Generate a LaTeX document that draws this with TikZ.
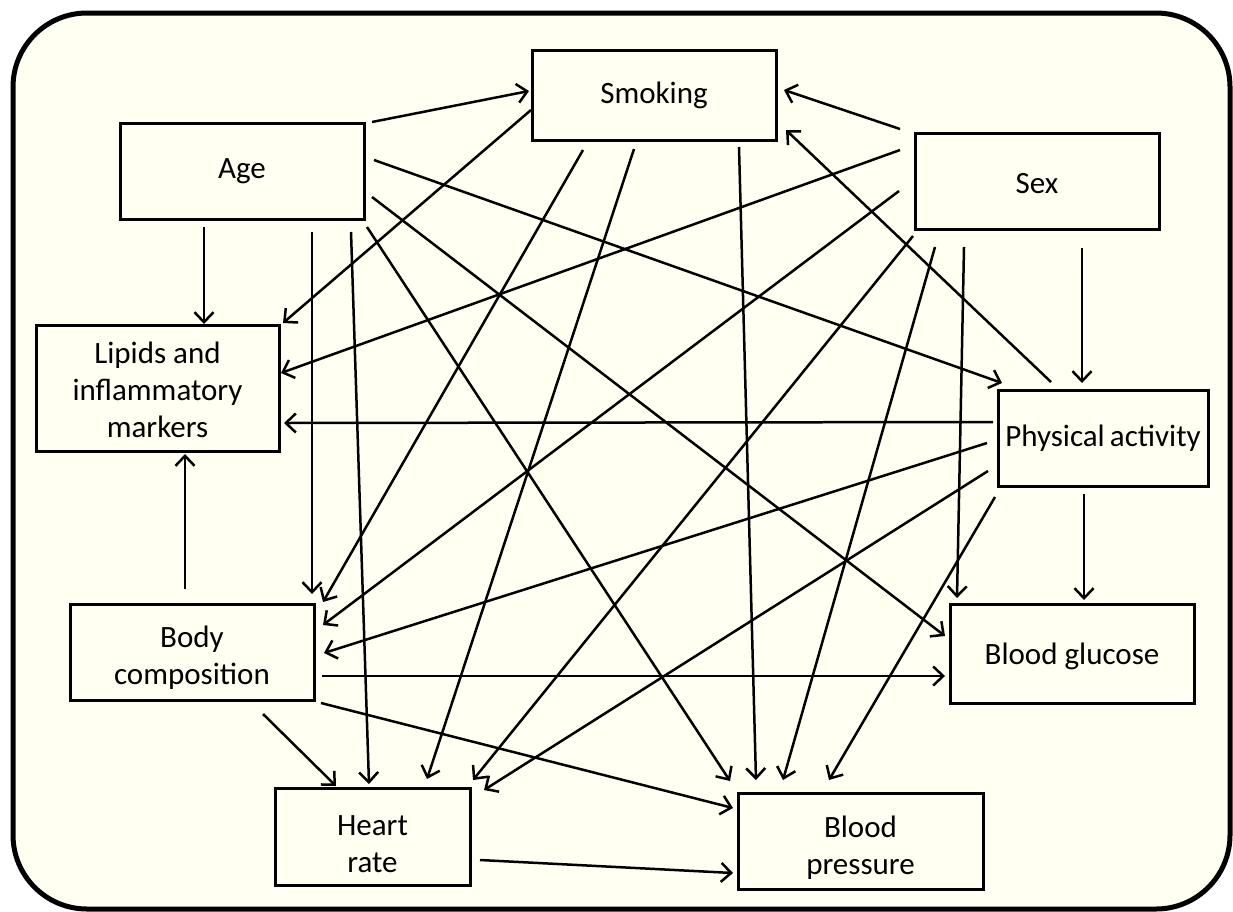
\documentclass[tikz,border=0pt]{standalone}
\usepackage{fontspec}
\setmainfont{Carlito}
\usetikzlibrary{arrows.meta,calc}
\definecolor{bgc}{RGB}{255,255,242}
\newcommand{\boxfont}{\fontsize{31}{37}\selectfont}
\newcommand{\lowr}[1]{\rule{0pt}{#1}}
\tikzset{
  box/.style={draw, line width=3pt, inner sep=0pt, outer sep=0pt, align=center, font=\boxfont, fill=bgc},
  arr/.style={line width=2.5pt, -{Straight Barb[length=10pt,width=19pt,line width=2.5pt]}}
}
\begin{document}
\begin{tikzpicture}[x=1pt,y=-1pt]
\useasboundingbox (0,0) rectangle (1233,911);
\draw[line width=5pt, rounded corners=74pt, fill=bgc] (13,13) rectangle (1230,909);

\node[box, minimum width=244pt, minimum height=90pt] (smoking) at (654,95) {Smoking};
\node[box, minimum width=244pt, minimum height=96pt] (age) at (242,171) {Age};
\node[box, minimum width=244pt, minimum height=96pt] (sex) at (1037,181) {\lowr{26pt}Sex};
\node[box, minimum width=210pt, minimum height=96pt] (pa) at (1103,438) {Physical\,activity};
\node[box, minimum width=243pt, minimum height=126pt] (lipids) at (157.5,388) {\lowr{25pt}Lipids and\\inflammatory\\markers};
\node[box, minimum width=244pt, minimum height=96pt] (bc) at (192,652) {\lowr{32pt}Body\\composition};
\node[box, minimum width=244pt, minimum height=99pt] (bg) at (1072,653.5) {\lowr{28pt}Blood glucose};
\node[box, minimum width=195pt, minimum height=97pt] (hr) at (372.5,836.5) {\lowr{36pt}Heart\\rate};
\node[box, minimum width=245pt, minimum height=96pt] (bp) at (860.5,841) {\lowr{34pt}Blood\\pressure};

% from Age
\draw[arr] ($(age.north west)+(252,-1)$) -- ($(smoking.north west)+(-3,41)$);
\draw[arr] ($(age.north west)+(84,104)$) -- ($(lipids.north west)+(168,-1)$);
\draw[arr] ($(age.north west)+(192,109)$) -- ($(bc.north west)+(242,-10)$);
\draw[arr] ($(age.north west)+(231,109)$) -- ($(hr.north west)+(94,-4)$);
\draw[arr] ($(age.north west)+(247,104)$) -- ($(bp.north west)+(-8,-12)$);
\draw[arr] ($(age.north west)+(252,74)$) -- ($(bg.north west)+(-5,32)$);
\draw[arr] ($(age.north west)+(254,37)$) -- ($(pa.north west)+(4,-7)$);
% from Smoking
\draw[arr] ($(smoking.north west)+(-1,60)$) -- ($(lipids.north west)+(247,-2)$);
\draw[arr] ($(smoking.north west)+(51,100)$) -- ($(bc.north west)+(253,-2)$);
\draw[arr] ($(smoking.north west)+(102,99)$) -- ($(hr.north west)+(152,-9)$);
\draw[arr] ($(smoking.north west)+(207,97)$) -- ($(bp.north west)+(18,-13)$);
% from Sex
\draw[arr] ($(sex.north west)+(-15,-4)$) -- ($(smoking.north west)+(252,40)$);
\draw[arr] ($(sex.north west)+(-15,17)$) -- ($(lipids.north west)+(245,48)$);
\draw[arr] ($(sex.north west)+(-16,58)$) -- ($(bc.north west)+(253,21)$);
\draw[arr] ($(sex.north west)+(-2,103)$) -- ($(hr.north west)+(198,-8)$);
\draw[arr] ($(sex.north west)+(20,114)$) -- ($(bp.north west)+(45,-13)$);
\draw[arr] ($(sex.north west)+(49,114)$) -- ($(bg.north west)+(7,-6)$);
\draw[arr] ($(sex.north west)+(167,115)$) -- ($(pa.north west)+(84,-7)$);
% from Physical activity
\draw[arr] ($(pa.north west)+(53,-8)$) -- ($(smoking.north west)+(254,80)$);
\draw[arr] ($(pa.north west)+(-5,32)$) -- ($(lipids.north west)+(248,98)$);
\draw[arr] ($(pa.north west)+(-11,53)$) -- ($(bc.north west)+(254,49)$);
\draw[arr] ($(pa.north west)+(-10,81)$) -- ($(hr.north west)+(209,2)$);
\draw[arr] ($(pa.north west)+(-3,107)$) -- ($(bp.north west)+(91,-13)$);
\draw[arr] ($(pa.north west)+(86,104)$) -- ($(bg.north west)+(134,-4)$);
% from Body composition
\draw[arr] ($(bc.north west)+(115,-15)$) -- ($(lipids.north west)+(149,129)$);
\draw[arr] ($(bc.north west)+(252,72)$) -- ($(bg.north west)+(-5,72)$);
\draw[arr] ($(bc.north west)+(193,110)$) -- ($(hr.north west)+(61,-2)$);
\draw[arr] ($(bc.north west)+(251,99)$) -- ($(bp.north west)+(-5,15)$);
% from Heart rate
\draw[arr] ($(hr.north west)+(205,72)$) -- ($(bp.north west)+(-5,80)$);
\end{tikzpicture}
\end{document}
